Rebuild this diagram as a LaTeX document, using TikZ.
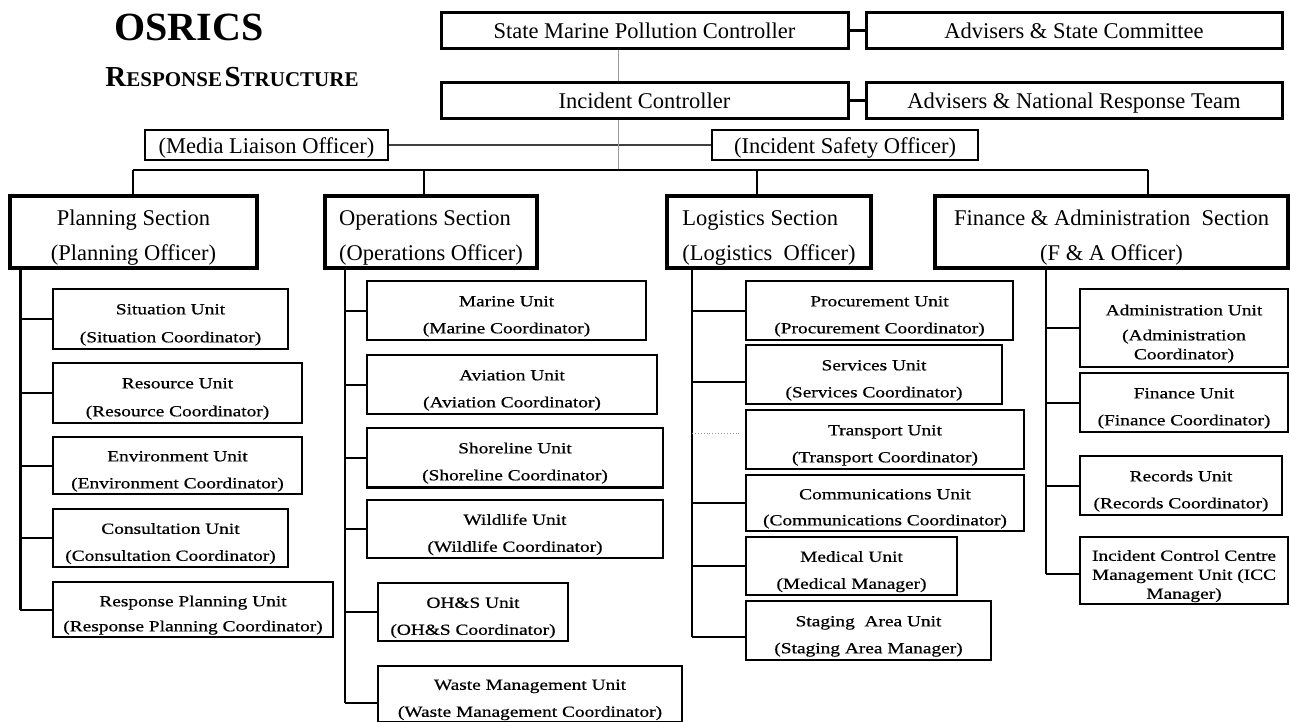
\documentclass[tikz,border=0pt]{standalone}
\usepackage{fontspec}
\setmainfont{Liberation Serif}
\newfontfamily\unitfamily[FakeStretch=1.25,FakeBold=0.6]{Liberation Serif}
\newcommand\topfont{\fontsize{22.5}{26}\selectfont}
\newcommand\secfont{\fontsize{22.5}{35}\selectfont}
\newcommand\ufont{\unitfamily\fontsize{15.5}{19}\selectfont}
\newcommand\uStrut{\rule{0pt}{22pt}}
\newcommand\sStrut{\rule{0pt}{27pt}}
\newcommand\bx[7]{\node[#6, minimum width={(#4-#2)*1pt}, minimum height={(#5-#3)*1pt}] (#1) at ({(#2+#4)/2},{(#3+#5)/2}) {#7};}
\tikzset{
  topbox/.style={draw, line width=3pt, inner sep=0pt, font=\topfont, text height=17pt, text depth=1pt},
  offbox/.style={draw, line width=1.8pt, inner sep=0pt, font=\topfont, text height=17pt, text depth=1pt},
  secbox/.style={draw, line width=3.6pt, inner sep=0pt, font=\secfont, align=center},
  secboxl/.style={secbox, align=left},
  unitbox/.style={draw, line width=1.9pt, inner sep=0pt, font=\ufont, align=center},
  conn/.style={line width=2pt},
  thickconn/.style={line width=3pt},
  thinconn/.style={line width=0.7pt, black!40},
  midconn/.style={line width=2pt, black!75},
  dotconn/.style={line width=0.9pt, black!40, dotted},
}
\begin{document}
\begin{tikzpicture}[x=1pt,y=-1pt]
\useasboundingbox (0,0) rectangle (1291,721);
% titles
\node[font=\bfseries\fontsize{40}{40}\selectfont, inner sep=0pt] (t1) at (189,27) {OSRICS};
\node[font=\bfseries, inner sep=0pt] (t2) at (232,77) {{\fontsize{29}{29}\selectfont R}{\fontsize{21}{21}\selectfont ESPONSE} {\fontsize{29}{29}\selectfont S}{\fontsize{21}{21}\selectfont TRUCTURE}};
% top
\bx{smpc}{441}{12}{848}{48}{topbox}{State Marine Pollution Controller}
\bx{asc}{866}{12}{1282}{48}{topbox}{Advisers \& State Committee}
\bx{ic}{441}{82}{848}{118}{topbox}{Incident Controller}
\bx{anrt}{866}{82}{1282}{118}{topbox}{Advisers \& National Response Team}
\bx{mlo}{145}{130}{388}{160}{offbox}{(Media Liaison Officer)}
\bx{iso}{712}{130}{978}{160}{offbox}{(Incident Safety Officer)}
\draw[thickconn] (smpc.east) -- (asc.west);
\draw[thickconn] (ic.east) -- (anrt.west);
\draw[midconn] (mlo.east) -- (iso.west);
\coordinate (vT) at (618,0);
\coordinate (busL) at (133,170);
\coordinate (busR) at (1148,170);
\draw[thinconn] (smpc.south -| vT) -- (ic.north -| vT);
\draw[thinconn] (ic.south -| vT) -- (busL -| vT);
\draw[conn] (busL) -- (busR);
% sections
\bx{secP}{10}{196}{257}{268}{secbox}{\sStrut Planning Section\\(Planning Officer)}
\bx{secO}{325}{196}{537}{268}{secboxl}{\sStrut Operations Section\\(Operations Officer)}
\bx{secL}{667}{196}{871}{268}{secboxl}{\sStrut Logistics Section\\(Logistics\ \ Officer)}
\bx{secF}{935}{196}{1288}{268}{secbox}{\sStrut Finance \& Administration\ \ Section\\(F \& A Officer)}
\draw[conn] (busL) -- (secP.north -| busL);
\draw[conn] ([xshift=-7pt]secO.north |- busL) -- ([xshift=-7pt]secO.north);
\draw[conn] ([xshift=-12pt]secL.north |- busL) -- ([xshift=-12pt]secL.north);
\draw[conn] (busR) -- (secF.north -| busR);
% planning units
\bx{uSit}{53}{289}{288}{349}{unitbox}{\uStrut Situation Unit\\[9pt](Situation Coordinator)}
\bx{uRes}{53}{363}{302}{423}{unitbox}{\uStrut Resource Unit\\[9pt](Resource Coordinator)}
\bx{uEnv}{53}{437}{302}{494}{unitbox}{\uStrut Environment Unit\\[8pt](Environment Coordinator)}
\bx{uCon}{53}{509}{288}{567}{unitbox}{\uStrut Consultation Unit\\[8pt](Consultation Coordinator)}
\bx{uRP}{53}{582}{333}{637}{unitbox}{\uStrut Response Planning Unit\\[6pt](Response Planning Coordinator)}
\coordinate (pT) at (20,0);
\draw[line width=3pt] (secP.south -| pT) -- (uRP.west -| pT);
\foreach \u in {uSit,uRes,uEnv,uCon,uRP} \draw[conn] (\u.west -| pT) -- (\u.west);
% operations units
\bx{uMar}{367}{281}{646}{340}{unitbox}{\uStrut Marine Unit\\[8pt](Marine Coordinator)}
\bx{uAvi}{367}{355}{657}{414}{unitbox}{\uStrut Aviation Unit\\[8pt](Aviation Coordinator)}
\bx{uSho}{367}{428}{663}{487}{unitbox}{\uStrut Shoreline Unit\\[8pt](Shoreline Coordinator)}
\bx{uWil}{367}{500}{663}{558}{unitbox}{\uStrut Wildlife Unit\\[8pt](Wildlife Coordinator)}
\bx{uOHS}{378}{583}{568}{641}{unitbox}{\uStrut OH\&S Unit\\[8pt](OH\&S Coordinator)}
\bx{uWas}{378}{666}{682}{722}{unitbox}{\uStrut Waste Management Unit\\[8pt](Waste Management Coordinator)}
\draw[line width=3pt] (uSho.south west) -- (uSho.south east);
\coordinate (oT) at (345,0);
\coordinate (oEnd) at (345,703);
\draw[conn] (secO.south -| oT) -- (oEnd);
\foreach \u in {uMar,uAvi,uSho,uWil,uOHS} \draw[conn] (\u.west -| oT) -- (\u.west);
\draw[conn] (oEnd) -- (oEnd -| uWas.west);
% logistics units
\bx{uPro}{746}{281}{1013}{340}{unitbox}{\uStrut Procurement Unit\\[8pt](Procurement Coordinator)}
\bx{uSer}{746}{345}{1002}{404}{unitbox}{\uStrut Services Unit\\[8pt](Services Coordinator)}
\bx{uTra}{746}{410}{1024}{469}{unitbox}{\uStrut Transport Unit\\[8pt](Transport Coordinator)}
\bx{uCom}{746}{475}{1024}{531}{unitbox}{\uStrut Communications Unit\\[7pt](Communications Coordinator)}
\bx{uMed}{746}{537}{957}{595}{unitbox}{\uStrut Medical Unit\\[8pt](Medical Manager)}
\bx{uSta}{746}{601}{991}{660}{unitbox}{\uStrut Staging\ \ Area Unit\\[8pt](Staging Area Manager)}
\coordinate (lT) at (692,0);
\draw[conn] (secL.south -| lT) -- ([yshift=-6pt]uSta.west -| lT);
\draw[conn] (uPro.west -| lT) -- (uPro.west);
\draw[conn] ([yshift=-7pt]uSer.west -| lT) -- ([yshift=-7pt]uSer.west);
\draw[dotconn] ([yshift=6pt]uTra.west -| lT) -- ([yshift=6pt,xshift=-6pt]uTra.west);
\draw[conn] (uCom.west -| lT) -- (uCom.west);
\draw[conn] (uMed.west -| lT) -- (uMed.west);
\draw[conn] ([yshift=-6pt]uSta.west -| lT) -- ([yshift=-6pt]uSta.west);
% finance units
\bx{uAdm}{1080}{289}{1288}{367}{unitbox}{\uStrut Administration Unit\\[6pt](Administration\\Coordinator)}
\bx{uFin}{1080}{373}{1288}{432}{unitbox}{\uStrut Finance Unit\\[8pt](Finance Coordinator)}
\bx{uRec}{1080}{456}{1282}{515}{unitbox}{\uStrut Records Unit\\[8pt](Records Coordinator)}
\bx{uICC}{1080}{537}{1288}{604}{unitbox}{\uStrut Incident Control Centre\\Management Unit (ICC\\Manager)}
\coordinate (fT) at (1046,0);
\draw[conn] (secF.south -| fT) -- ([yshift=-3pt]uICC.west -| fT);
\foreach \u in {uAdm,uFin,uRec} \draw[conn] (\u.west -| fT) -- (\u.west);
\draw[conn] ([yshift=-3pt]uICC.west -| fT) -- ([yshift=-3pt]uICC.west);
\end{tikzpicture}
\end{document}
